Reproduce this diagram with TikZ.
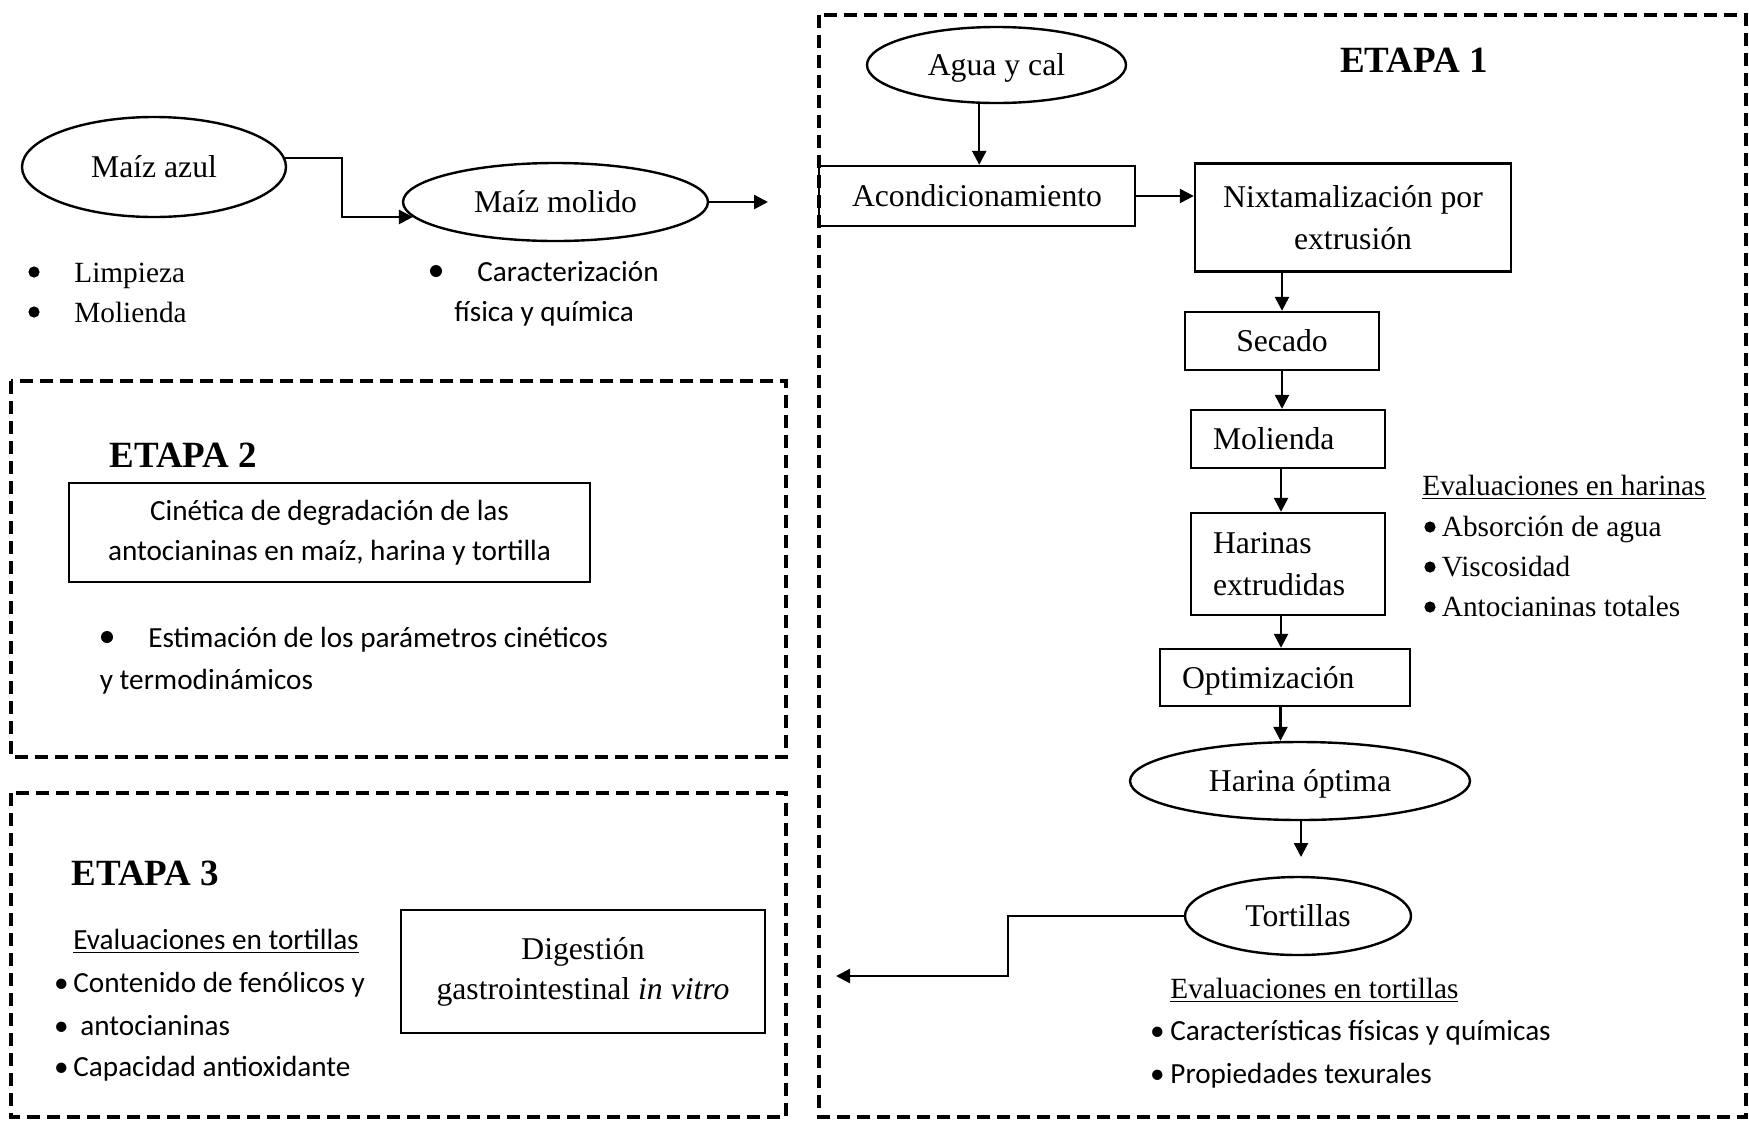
\documentclass[tikz,border=0pt]{standalone}
\usepackage{fontspec}
\setmainfont{Liberation Serif}
\newfontfamily\calfont{Carlito}
\usetikzlibrary{shapes.geometric,arrows.meta,calc}
\newcommand\szA{\fontsize{15.85pt}{21pt}\selectfont}
\newcommand\szB{\fontsize{14.65pt}{20pt}\selectfont}
\newcommand\szS{\calfont\fontsize{14.6pt}{20pt}\selectfont}
\newcommand\szD{\fontsize{15.85pt}{20pt}\selectfont}
\newcommand\szE{\bfseries\fontsize{18.5pt}{22pt}\selectfont}
\newcommand\ulx[1]{\setbox0\hbox{#1}\rlap{\rule[-2.2pt]{\wd0}{0.9pt}}\box0}
\newcommand\bul[1]{\llap{\makebox[0pt]{•}\hspace{#1pt}}}
\begin{document}
\begin{tikzpicture}[x=0.5pt,y=-0.5pt,
  every node/.style={inner sep=0pt},
  one/.style={text height=10.5pt,text depth=0pt},
  ell/.style={draw,ellipse,line width=1.2pt,font=\szA,one},
  box/.style={draw,rectangle,line width=1.2pt,font=\szA},
  arr/.style={line width=1.2pt,-{Triangle[length=7pt,width=7pt]}},
  dbox/.style={line width=1.8pt,dash pattern=on 6.5pt off 3.5pt},
  lbl/.style={anchor=base west,font=\szB},
  lbs/.style={anchor=base west,font=\szS},
  etapa/.style={font=\szE},
  bdot/.style={fill=black}]
\useasboundingbox (0,0) rectangle (1749,1120);

% dashed frames
\draw[dbox] (819,15) rectangle (1746,1117);
\draw[dbox] (11,381) rectangle (786,757);
\draw[dbox] (11,793) rectangle (786,1117);

% top left
\node[ell,minimum width=132pt,minimum height=50pt] (maizazul) at (154,167) {Maíz azul};
\node[ell,minimum width=152.5pt,minimum height=39pt] (maizmolido) at (555.5,202) {Maíz molido};
\coordinate (mmend) at (768,202);
\draw[arr] (maizazul.4) -- ++(57,0) |- (maizmolido.186);
\draw[arr] (maizmolido.east) -- (mmend);
\node[lbl] (limp) at (74,282) {Limpieza};
\node[lbl] (mol) at (74,322) {Molienda};
\node[lbs] (carac) at (477,281) {Caracterización};
\node[lbs] (fis) at (454,321) {física y química};
\fill[bdot] (34,272) circle (2.8pt);
\fill[bdot] (34,312) circle (2.8pt);
\fill[bdot] (436,271) circle (3pt);

% ETAPA 1
\node[etapa] (e1) at (1414,60) {ETAPA 1};
\node[ell,minimum width=129.5pt,minimum height=38pt] (agua) at (996.5,65) {Agua y cal};
\node[box,one,minimum width=158pt,minimum height=30pt] (acond) at (977,196) {Acondicionamiento};
\node[box,align=center,minimum width=158pt,minimum height=54pt] (nixt) at (1353,217.5) {Nixtamalización por\\extrusión};
\node[box,one,minimum width=97pt,minimum height=29pt] (secado) at (1282,341) {Secado};
\node[box,one,minimum width=97pt,minimum height=29pt,text width=75pt,align=left,inner xsep=11pt] (molienda) at (1288,439) {Molienda};
\node[box,minimum width=97pt,minimum height=51pt,text width=75pt,align=left,inner xsep=11pt] (harinas) at (1288,564) {Harinas\\extrudidas};
\node[box,one,minimum width=125pt,minimum height=28.5pt,text width=103pt,align=left,inner xsep=11pt] (optim) at (1285,677.5) {Optimización};
\node[ell,minimum width=170pt,minimum height=39pt] (hopt) at (1300,781) {Harina óptima};
\node[ell,minimum width=113pt,minimum height=39pt] (tort) at (1298,916) {Tortillas};

\draw[arr] (agua.246) -- (agua.246 |- acond.north);
\draw[arr] (acond.east) -- (acond.east -| nixt.west);
\draw[arr] (secado.north |- nixt.south) -- (secado.north);
\draw[arr] (secado.south) -- (secado.south |- molienda.north);
\coordinate (c2) at ($(molienda.south)+(-7,0)$);
\draw[arr] (c2) -- (c2 |- harinas.north);
\coordinate (c3) at ($(harinas.south)+(-7,0)$);
\draw[arr] (c3) -- (c3 |- optim.north);
\coordinate (c4) at ($(optim.south)+(-4.5,0)$);
\draw[arr] (c4) -- (c4 |- hopt.north);
\coordinate (hend) at (1301,857);
\draw[arr] (hend |- hopt.south) -- (hend);
\coordinate (tend) at (836,976);
\draw[arr] (tort.west) -- ++(-176,0) |- (tend);

\node[lbl] (evh) at (1422,495) {\ulx{Evaluaciones en harinas}};
\node[lbl] (abs) at (1441.5,536) {Absorción de agua};
\node[lbl] (visc) at (1441.5,576) {Viscosidad};
\node[lbl] (antt) at (1441.5,616) {Antocianinas totales};
\fill[bdot] (1430,527) circle (2.8pt);
\fill[bdot] (1430,567) circle (2.8pt);
\fill[bdot] (1430,607) circle (2.8pt);

\node[lbl] (evt) at (1170,998) {\ulx{Evaluaciones en tortillas}};
\node[lbs] (cara) at (1170,1040) {\bul{6.5}Características físicas y químicas};
\node[lbs] (prop) at (1170,1083) {\bul{6.5}Propiedades texurales};

% ETAPA 2
\node[etapa,anchor=west] (e2) at (109,455) {ETAPA 2};
\node[box,font=\szS,align=center,minimum width=260.5pt,minimum height=49.5pt] (cin) at (329.5,532.5) {Cinética de degradación de las\\antocianinas en maíz, harina y tortilla};
\node[lbs] (est) at (148,647) {Estimación de los parámetros cinéticos};
\node[lbs] (yterm) at (99.5,689) {y termodinámicos};
\fill[bdot] (107,637) circle (3pt);

% ETAPA 3
\node[etapa,anchor=west] (e3) at (71,873) {ETAPA 3};
\node[lbs] (ev3) at (73,949) {\ulx{Evaluaciones en tortillas}};
\node[lbs] (cont) at (73,992) {\bul{6}Contenido de fenólicos y};
\node[lbs] (anto) at (80,1035) {\bul{9.5}antocianinas};
\node[lbs] (capa) at (73,1076) {\bul{6}Capacidad antioxidante};
\node[box,align=center,font=\szD,minimum width=181.75pt,minimum height=61.5pt] (dig) at (583,971.5) {Digestión\\gastrointestinal \textit{in vitro}};
\end{tikzpicture}
\end{document}
